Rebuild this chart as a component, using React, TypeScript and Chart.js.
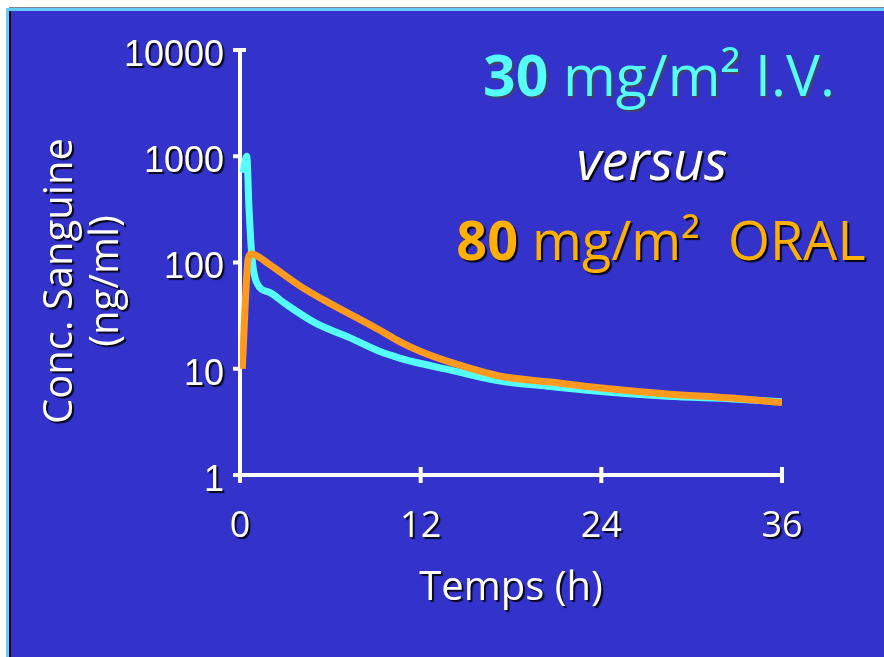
import React, { useEffect, useRef } from "react";
import { Chart, registerables } from "chart.js";

Chart.register(...registerables);

// ---- data ----
const ivTimes = [0.2, 0.45, 0.6, 0.8, 1.1, 2, 3, 5, 7.5, 9.3, 10.6, 12, 14, 17, 20.6, 24, 28.4, 32.7, 36];
const ivConc = [700, 1000, 320, 110, 65, 52, 41, 27, 19, 14.5, 12.6, 11.2, 9.7, 7.8, 6.8, 6.1, 5.5, 5.2, 4.9];

const oralTimes = [0.15, 0.55, 0.75, 1, 2, 4, 6, 8, 9.3, 10.6, 12, 13.9, 17.3, 20.6, 24, 28.4, 32.7, 36];
const oralConc = [10, 110, 120, 118, 95, 60, 41, 29, 23, 18, 14.5, 11.6, 8.5, 7.5, 6.6, 5.8, 5.3, 4.8];

const xTicks = [0, 12, 24, 36];
const yTicks = [1, 10, 100, 1000, 10000];

const xTitle = "Temps (h)";
const yTitleLines = ["Conc. Sanguine", "(ng/ml)"];

const ivLabel = "30 mg/m² I.V.";
const oralLabel = "80 mg/m² ORAL";

const SHADOW = "rgba(0,0,0,0.85)";

const axesPlugin = {
  id: "axesAndShadows",
  beforeDraw(chart: any) {
    const ctx = chart.ctx;
    ctx.save();
    ctx.shadowColor = SHADOW;
    ctx.shadowOffsetX = 2;
    ctx.shadowOffsetY = 2;
    ctx.shadowBlur = 1;
  },
  beforeDatasetsDraw(chart: any) {
    const ctx = chart.ctx;
    ctx.restore();
    const xs = chart.scales.x;
    const ys = chart.scales.y;
    const x0 = xs.getPixelForValue(xTicks[0]);
    const xEnd = xs.getPixelForValue(xTicks[xTicks.length - 1]);
    const yBottom = ys.getPixelForValue(yTicks[0]);
    const yTop = ys.getPixelForValue(yTicks[yTicks.length - 1]);
    ctx.save();
    ctx.strokeStyle = "#ffffff";
    ctx.lineWidth = 4;
    ctx.lineCap = "butt";
    ctx.beginPath();
    ctx.moveTo(x0, yTop - 2);
    ctx.lineTo(x0, yBottom + 2);
    ctx.moveTo(x0 - 5, yBottom);
    ctx.lineTo(xEnd + 2, yBottom);
    yTicks.forEach((v) => {
      const py = ys.getPixelForValue(v);
      ctx.moveTo(x0 - 7, py);
      ctx.lineTo(x0, py);
    });
    ctx.moveTo(x0 - 5, yTop);
    ctx.lineTo(x0 + 6, yTop);
    xTicks.forEach((v, i) => {
      const px = xs.getPixelForValue(v);
      ctx.moveTo(px, i === 0 ? yBottom : yBottom - 8);
      ctx.lineTo(px, yBottom + 8);
    });
    ctx.stroke();
    ctx.restore();
  },
  afterDraw(chart: any) {
    const ctx = chart.ctx;
    ctx.save();
    ctx.shadowColor = SHADOW;
    ctx.shadowOffsetX = 2;
    ctx.shadowOffsetY = 2;
    ctx.shadowBlur = 1;
    ctx.fillStyle = "#ffffff";
    ctx.font = '40px "Open Sans"';
    ctx.textAlign = "center";
    ctx.textBaseline = "middle";
    yTitleLines.forEach((line, i) => {
      ctx.save();
      ctx.translate(61 + i * 46, 281);
      ctx.rotate(-Math.PI / 2);
      ctx.fillText(line, 0, 0);
      ctx.restore();
    });
    ctx.restore();
  },
};

export default function App() {
  const canvasRef = useRef<HTMLCanvasElement | null>(null);

  useEffect(() => {
    const canvas = canvasRef.current;
    if (!canvas) return;
    const chart = new Chart(canvas, {
      type: "line",
      data: {
        datasets: [
          {
            label: oralLabel,
            data: oralTimes.map((x, i) => ({ x, y: oralConc[i] })),
            borderColor: "#ff9a1f",
            backgroundColor: "#ff9a1f",
            borderWidth: 7,
            pointRadius: 0,
            cubicInterpolationMode: "monotone",
            fill: false,
          },
          {
            label: ivLabel,
            data: ivTimes.map((x, i) => ({ x, y: ivConc[i] })),
            borderColor: "#55ffff",
            backgroundColor: "#55ffff",
            borderWidth: 7,
            pointRadius: 0,
            cubicInterpolationMode: "monotone",
            fill: false,
          },
        ],
      },
      options: {
        responsive: false,
        animation: false,
        devicePixelRatio: 1,
        layout: { padding: { left: 0, top: 50, right: 102, bottom: 0 } },
        plugins: {
          legend: { display: false },
          tooltip: { enabled: false },
        },
        scales: {
          x: {
            type: "linear",
            position: "bottom",
            min: 0,
            max: 36,
            afterBuildTicks: (s: any) => {
              s.ticks = xTicks.map((v) => ({ value: v }));
            },
            afterFit: (s: any) => {
              s.height = 182;
            },
            grid: { display: false, drawTicks: false },
            border: { display: false },
            ticks: {
              color: "#ffffff",
              font: { family: "Open Sans", size: 36 },
              padding: 30,
              maxRotation: 0,
              autoSkip: false,
              callback: (v: any) => String(v),
            },
            title: {
              display: true,
              text: xTitle,
              color: "#ffffff",
              font: { family: "Open Sans", size: 40 },
              padding: { top: 0, bottom: 44 },
            },
          },
          y: {
            type: "logarithmic",
            min: 1,
            max: 10000,
            afterBuildTicks: (s: any) => {
              s.ticks = yTicks.map((v) => ({ value: v }));
            },
            afterFit: (s: any) => {
              s.width = 240;
            },
            grid: { display: false, drawTicks: false },
            border: { display: false },
            ticks: {
              color: "#ffffff",
              font: { family: "Liberation Sans", size: 36 },
              padding: 16,
              labelOffset: 6,
              autoSkip: false,
              callback: (v: any) => String(v),
            },
          },
        },
      } as any,
      plugins: [axesPlugin],
    });
    return () => chart.destroy();
  }, []);

  const textBase: React.CSSProperties = {
    position: "absolute",
    transform: "translateX(-50%)",
    whiteSpace: "pre",
    fontFamily: '"Open Sans", sans-serif',
    fontSize: 54,
    lineHeight: "54px",
  };

  return (
    <div
      style={{
        position: "absolute",
        left: 0,
        top: 0,
        width: 884,
        height: 657,
        background: "#ffffff",
        overflow: "hidden",
      }}
    >
      <div style={{ position: "absolute", left: 9, top: 7, right: 0, height: 1, background: "#7a8796" }} />
      <div style={{ position: "absolute", left: 6, top: 8, right: 0, height: 3, background: "#66ccff" }} />
      <div style={{ position: "absolute", left: 6, top: 8, width: 3, bottom: 0, background: "#66ccff" }} />
      <div style={{ position: "absolute", left: 9, top: 11, width: 2, bottom: 0, background: "#000000" }} />
      <div style={{ position: "absolute", left: 11, top: 11, right: 0, bottom: 0, background: "#3333cc" }} />
      <canvas
        ref={canvasRef}
        width={884}
        height={657}
        style={{ position: "absolute", left: 0, top: 0, width: 884, height: 657 }}
      />
      <div
        style={{
          ...textBase,
          left: 659,
          top: 46,
          fontSize: 57,
          lineHeight: "57px",
          color: "#55ffff",
          textShadow: "2px 2px 1px rgba(70,70,90,0.9)",
        }}
      >
        <b>30</b> mg/m² I.V.
      </div>
      <div
        style={{
          ...textBase,
          left: 652,
          top: 132,
          color: "#ffffff",
          fontStyle: "italic",
          textShadow: "2px 2px 1px rgba(0,0,0,0.9)",
        }}
      >
        versus
      </div>
      <div
        style={{
          ...textBase,
          left: 661,
          top: 212,
          color: "#ffb000",
          textShadow: "2px 2px 1px rgba(0,0,0,0.9)",
        }}
      >
        <b>80</b> mg/m²  ORAL
      </div>
    </div>
  );
}
